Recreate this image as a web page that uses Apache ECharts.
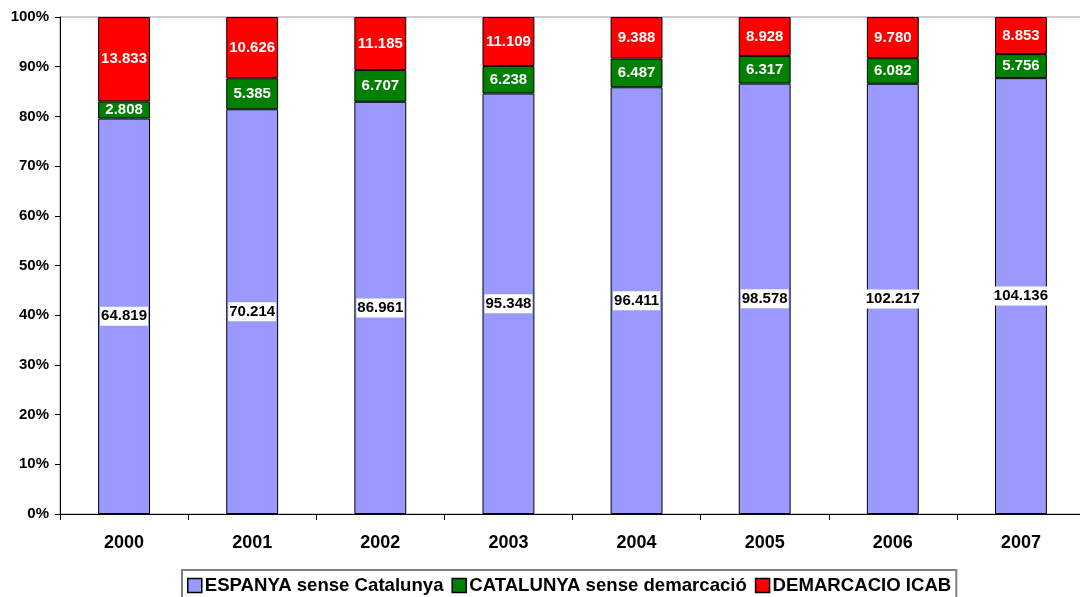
<!DOCTYPE html>
<html><head><meta charset="utf-8">
<script src="https://cdn.jsdelivr.net/npm/echarts@6/dist/echarts.min.js"></script>
<style>html,body{margin:0;padding:0;background:#fff}#c{width:1080px;height:597px}</style>
</head><body><div id="c"></div>
<script>
const years = ['2000','2001','2002','2003','2004','2005','2006','2007'];
const espanya = [64819, 70214, 86961, 95348, 96411, 98578, 102217, 104136];
const catalunya = [2808, 5385, 6707, 6238, 6487, 6317, 6082, 5756];
const icab = [13833, 10626, 11185, 11109, 9388, 8928, 9780, 8853];
const seriesNames = ['ESPANYA sense Catalunya', 'CATALUNYA sense demarcació', 'DEMARCACIO ICAB'];

const totals = years.map((_, i) => espanya[i] + catalunya[i] + icab[i]);
const fmt = v => String(v).replace(/\B(?=(\d{3})+(?!\d))/g, '.');
const pct = arr => arr.map((v, i) => ({ value: v / totals[i] * 100, raw: v }));

const font = 'Liberation Sans, Arial, sans-serif';
const mk = (name, arr, color, labelStyle) => ({
  name, type: 'bar', stack: 'a', barWidth: '40.5%',
  data: pct(arr),
  itemStyle: { color, borderColor: '#000', borderWidth: 1 },
  label: Object.assign({ show: true, position: 'inside', fontFamily: font, fontWeight: 'bold', fontSize: 15,
    formatter: p => fmt(p.data.raw) }, labelStyle)
});

const chart = echarts.init(document.getElementById('c'));
chart.setOption({
  animation: false,
  grid: { left: 60, top: 17, width: 1025, height: 497, show: true, borderColor: '#999', borderWidth: 1,
    outerBoundsMode: 'none', containLabel: false },
  legend: {
    top: 570, left: 182, itemWidth: 14, itemHeight: 14, itemGap: 8,
    borderColor: '#808080', borderWidth: 2, padding: [6, 5, 10, 5],
    textStyle: { fontFamily: font, fontWeight: 'bold', fontSize: 18.6, color: '#000', padding: [0, 0, 0, -2] },
    icon: 'rect',
    itemStyle: { borderColor: '#000', borderWidth: 1.5 },
    data: seriesNames
  },
  xAxis: {
    type: 'category', data: years,
    axisLine: { lineStyle: { color: '#000', width: 1 } },
    axisTick: { show: true, length: 6, inside: false, lineStyle: { color: '#000' } },
    axisLabel: { fontFamily: font, fontWeight: 'bold', fontSize: 18, color: '#000', margin: 20 }
  },
  yAxis: {
    type: 'value', min: 0, max: 100, interval: 10,
    axisLine: { show: true, lineStyle: { color: '#000', width: 1 } },
    axisTick: { show: true, length: 5, lineStyle: { color: '#000' } },
    splitLine: { show: false },
    axisLabel: { fontFamily: font, fontWeight: 'bold', fontSize: 15, color: '#000', margin: 11, formatter: '{value}%' }
  },
  series: [
    mk(seriesNames[0], espanya, '#9999ff', { color: '#000', backgroundColor: '#fff', padding: [2, 1, 2, 1] }),
    mk(seriesNames[1], catalunya, '#008000', { color: '#fff' }),
    mk(seriesNames[2], icab, '#ff0000', { color: '#fff' })
  ]
});
</script></body></html>
